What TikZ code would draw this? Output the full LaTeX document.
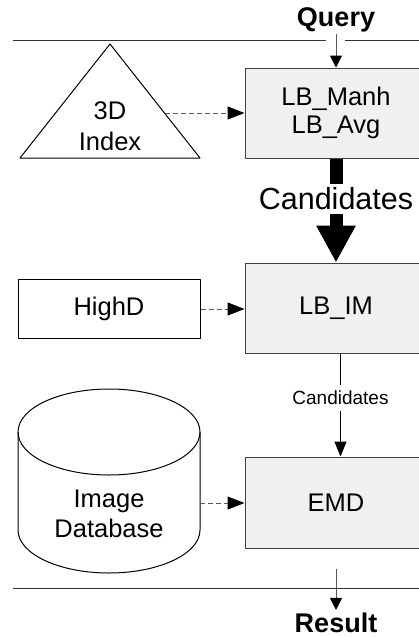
\documentclass[tikz,border=0pt]{standalone}
\usepackage{fontspec}
\setmainfont{Liberation Sans}
\usetikzlibrary{arrows.meta}
\tikzset{
  stage/.style={draw=black!75, fill=black!6, minimum width=182pt, minimum height=90pt,
    align=center, inner sep=0pt, font=\fontsize{25.5}{28.5}\selectfont},
  source/.style={align=center, inner sep=0pt, font=\fontsize{25.5}{30}\selectfont},
  feed/.style={draw=black!65, dash pattern=on 5pt off 3pt, -{Triangle[length=17pt,width=13pt,color=black]}},
  flow/.style={-{Triangle[length=15pt,width=12pt]}},
  io/.style={draw=black!65, -{Triangle[length=12pt,width=12pt,color=black]}},
  iolabel/.style={font=\bfseries\fontsize{27}{32}\selectfont, inner sep=2pt},
}
\begin{document}
\begin{tikzpicture}[x=1pt, y=-1pt, line width=1pt, line join=round]
	\useasboundingbox (0,0) rectangle (419,637);
	% filter stages
	\node[stage] (lbm) at (336,113) {LB\_Manh\\LB\_Avg};
	\node[stage] (lbim) at (336,308) {LB\_IM};
	\node[stage, minimum height=91pt] (emd) at (336,502.5) {EMD};
	% query and result
	\draw[black!80] (13,40) -- (326,40);
	\draw[black!80] (345,40) -- (419,40);
	\draw[black!80] (13,588) -- (419,588);
	\node[iolabel, anchor=base] (query) at (336,26) {Query};
	\node[iolabel, anchor=base] (result) at (336,632) {Result};
	\draw[io] (query.south) -- (lbm.north);
	\draw[io] ([yshift=-20pt]emd.south) -- (result.north);
	% 3D index
	\draw (20,158) -- (110,44) -- (200,158) -- cycle;
	\node[source, font=\fontsize{25.5}{31}\selectfont] (idx) at (110,126) {3D\\Index};
	\coordinate (idx-e) at (164.5,113);
	\draw[feed] (idx-e) -- (lbm.west);
	% HighD
	\node[source, draw, minimum width=182pt, minimum height=59pt] (highd) at (109,309) {HighD};
	\draw[feed] (highd.east) -- (lbim.west |- highd.east);
	% image database
	\draw (18,432) -- (18,530) arc[start angle=180, end angle=360, x radius=91pt, y radius=43pt] -- (200,432);
	\draw (109,432) ellipse [x radius=91pt, y radius=43pt];
	\node[source] (imdb) at (109,514) {Image\\Database};
	\coordinate (imdb-e) at (200,503);
	\draw[feed] (imdb-e) -- (emd.west |- imdb-e);
	% candidates
	\draw[line width=13pt, -{Triangle[length=37pt,width=37pt]}] (lbm.south) -- (lbim.north)
		node[pos=0.39, fill=white, inner xsep=1pt, inner ysep=4pt, font=\fontsize{30.5}{36}\selectfont] {Candidates};
	\draw[flow] ([xshift=4.5pt]lbim.south) -- ([xshift=4.5pt]emd.north)
		node[pos=0.43, fill=white, inner xsep=1pt, inner ysep=6pt, font=\fontsize{19}{23}\selectfont] {Candidates};
\end{tikzpicture}
\end{document}
